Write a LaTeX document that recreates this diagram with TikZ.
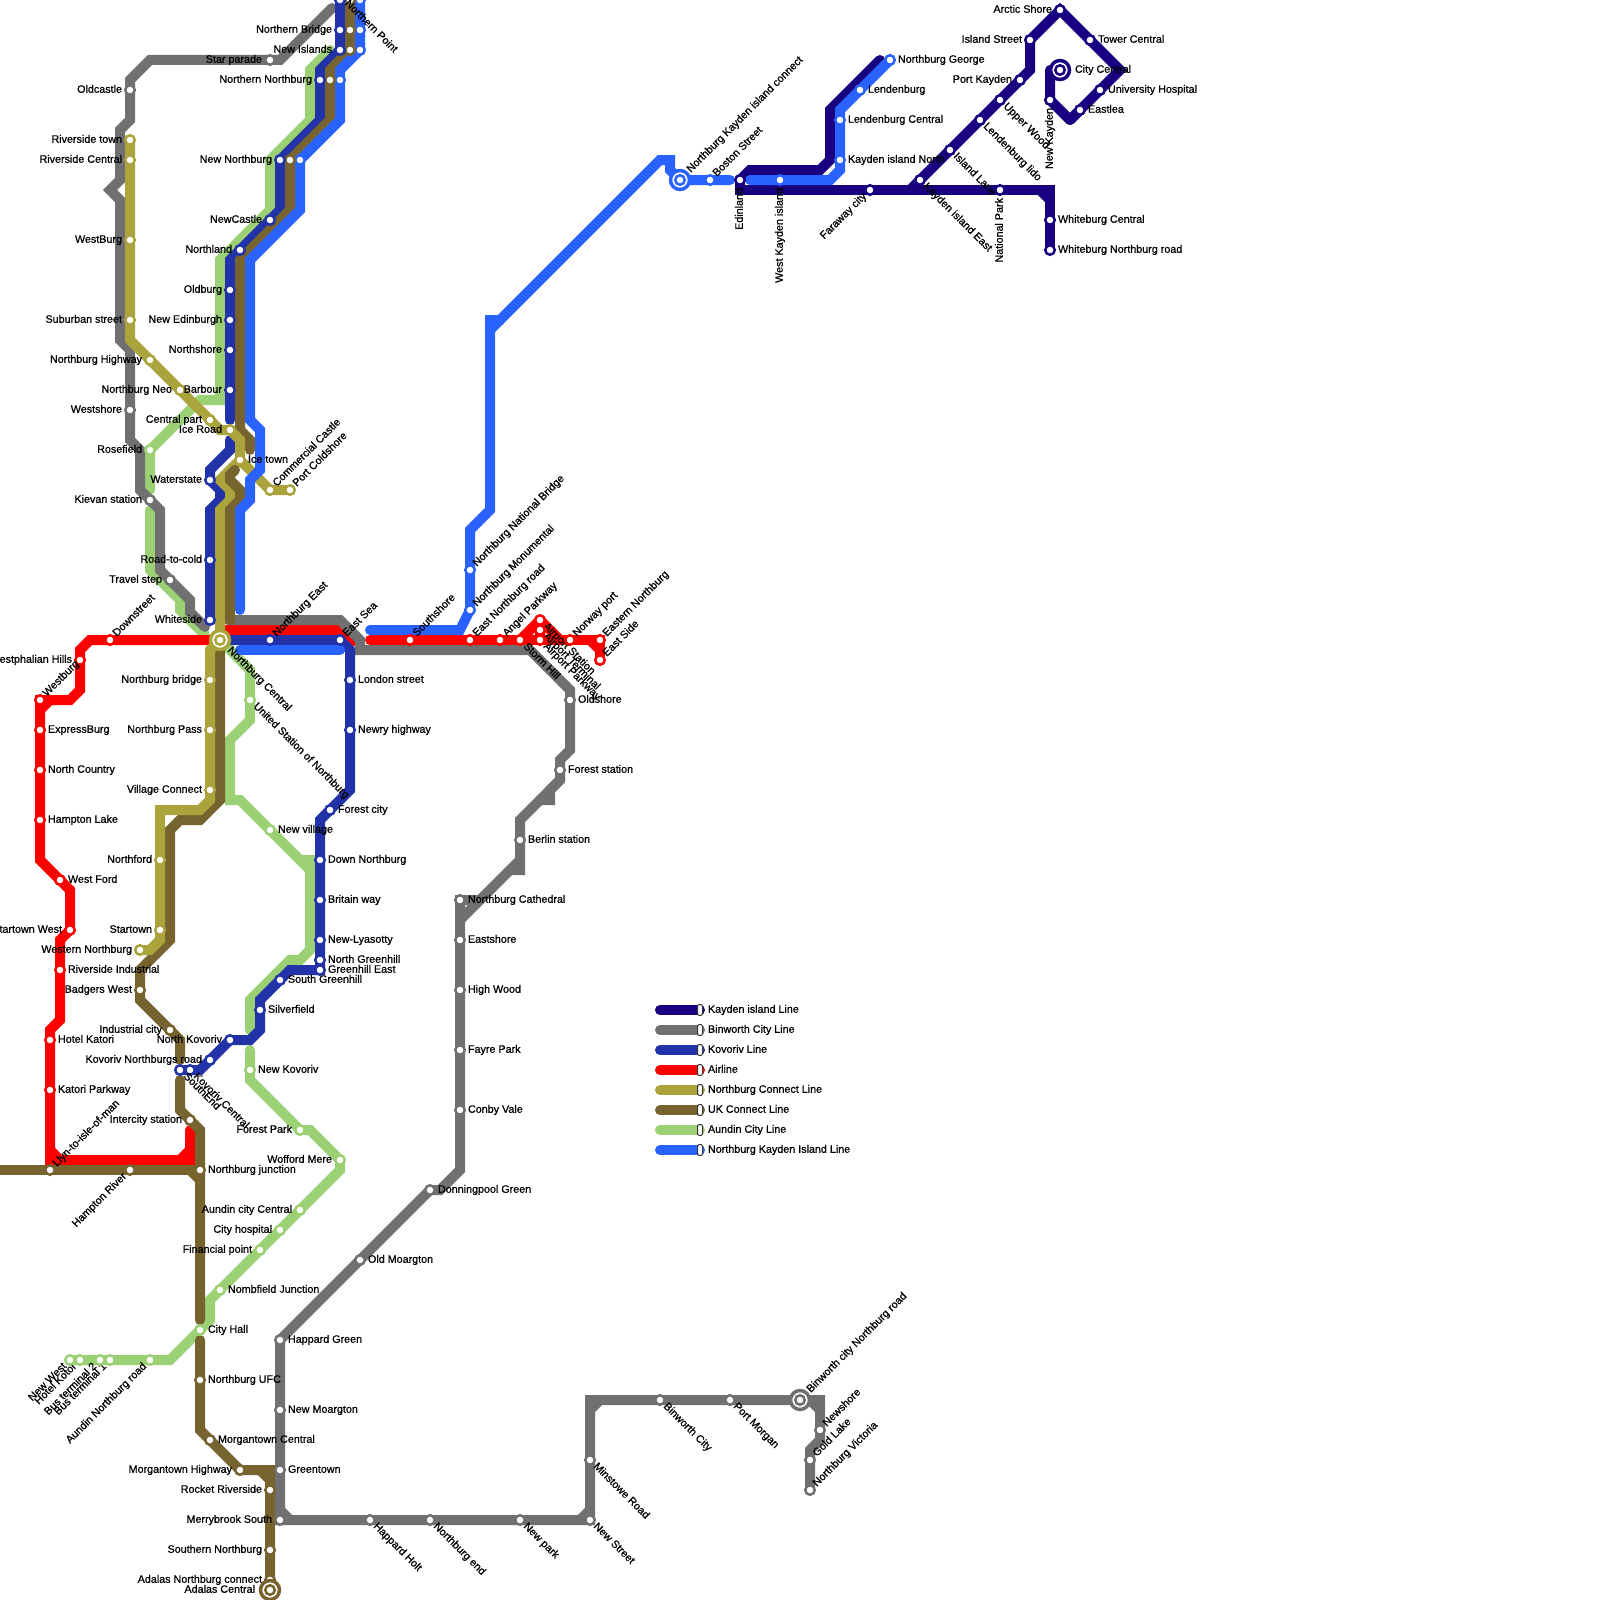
\documentclass[tikz,border=0pt]{standalone}
\usepackage{fontspec}
\newfontfamily\lab{Liberation Sans}[FakeBold=0.8]
\pgfdeclarelayer{bg}
\pgfsetlayers{bg,main}
\definecolor{kay}{HTML}{190080}
\definecolor{bin}{HTML}{707070}
\definecolor{kov}{HTML}{2232A8}
\definecolor{air}{HTML}{FF0000}
\definecolor{nco}{HTML}{ABA33B}
\definecolor{uko}{HTML}{77632E}
\definecolor{aun}{HTML}{9CD075}
\definecolor{nki}{HTML}{2962FF}
\tikzset{
  x=1pt,y=-1pt,
  ln/.style={line width=10pt,line cap=round,line join=miter,draw=#1},
  stn/.style={circle,draw=#1,line width=2.5pt,fill=white,minimum size=9.5pt,inner sep=0pt,outer sep=0pt},
  hbo/.style={circle,draw=#1,line width=3.5pt,fill=white,minimum size=19pt,inner sep=0pt,outer sep=0pt},
  tx/.style={inner sep=0pt,outer sep=0pt,font=\lab\fontsize{10.75}{10.75}\selectfont,text=black,text height=7.5pt,text depth=2pt},
  labr/.style={tx,xshift=8pt,anchor=west},
  labl/.style={tx,xshift=-8pt,anchor=east},
  labur/.style={tx,xshift=5pt,yshift=5pt,rotate=45,anchor=west},
  labdr/.style={tx,xshift=5pt,yshift=-5pt,rotate=-45,anchor=west},
  labdl/.style={tx,xshift=-5pt,yshift=-5pt,rotate=45,anchor=east},
  labd/.style={tx,yshift=-8pt,rotate=90,anchor=east},
  labhr/.style={tx,xshift=15pt,anchor=west},
  labhl/.style={tx,xshift=-15pt,anchor=east},
  labhur/.style={tx,xshift=9pt,yshift=9pt,rotate=45,anchor=west},
  labhdr/.style={tx,xshift=9pt,yshift=-9pt,rotate=-45,anchor=west},
  pill/.style={rounded corners=2pt,draw=black!80,line width=1pt,fill=white,minimum width=5pt,minimum height=11pt,inner sep=0pt,outer sep=0pt}
}
\newcommand\st[6]{\node[stn=#4] (#1) at (#2,#3) {}; \node[lab#5] (#1-t) at (#2,#3) {#6};}
\newcommand\dt[4]{\node[stn=#4] (#1) at (#2,#3) {};}
\newcommand\hb[6]{\node[hbo=#4] (#1) at (#2,#3) {}; \node[stn=#4] (#1-c) at (#2,#3) {}; \node[lab#5] (#1-t) at (#2,#3) {#6};}
\newcommand\lgd[3]{\coordinate (#1a) at (660,#2); \coordinate (#1b) at (700,#2);
  \draw[ln=#1] (#1a) -- (#1b); \node[pill] (#1p) at (#1b) {}; \node[labr] (#1t) at (#1b) {#3};}
\begin{document}
\begin{tikzpicture}
\useasboundingbox (0,0) rectangle (1600,1600);
% Kayden island Line
\st{arc}{1060}{10}{kay}{l}{Arctic Shore}
\st{ist}{1030}{40}{kay}{l}{Island Street}
\st{pk}{1020}{80}{kay}{l}{Port Kayden}
\st{tc}{1090}{40}{kay}{r}{Tower Central}
\st{uh}{1100}{90}{kay}{r}{University Hospital}
\st{eas}{1080}{110}{kay}{r}{Eastlea}
\st{nkay}{1050}{100}{kay}{d}{New Kayden}
\st{uw}{1000}{100}{kay}{dr}{Upper Wood}
\st{llido}{980}{120}{kay}{dr}{Lendenburg lido}
\st{ilane}{950}{150}{kay}{dr}{Island Lane}
\st{kie}{920}{180}{kay}{dr}{Kayden island East}
\st{natp}{1000}{190}{kay}{d}{National Park}
\st{farw}{870}{190}{kay}{dl}{Faraway city}
\st{edin}{740}{180}{kay}{d}{Edinland}
\st{wbc}{1050}{220}{kay}{r}{Whiteburg Central}
\st{wbn}{1050}{250}{kay}{r}{Whiteburg Northburg road}
\hb{cc}{1060}{70}{kay}{hr}{City Central}
% Northburg Kayden Island Line
\st{ng}{890}{60}{nki}{r}{Northburg George}
\st{lend}{860}{90}{nki}{r}{Lendenburg}
\st{lc}{840}{120}{nki}{r}{Lendenburg Central}
\st{kin}{840}{160}{nki}{r}{Kayden island North}
\st{wki}{780}{180}{nki}{d}{West Kayden island}
\st{bost}{710}{180}{nki}{ur}{Boston Street}
\hb{nkic}{680}{180}{nki}{hur}{Northburg Kayden island connect}
\st{nnb}{470}{570}{nki}{ur}{Northburg National Bridge}
\st{nmon}{470}{610}{nki}{ur}{Northburg Monumental}
\dt{np3}{360}{0}{nki}
\dt{nbr3}{360}{30}{nki}
\dt{ni3}{360}{50}{nki}
\dt{nn3}{340}{80}{nki}
\dt{nnr3}{300}{160}{nki}
% Airline
\st{ss}{410}{640}{air}{ur}{Southshore}
\st{enr}{470}{640}{air}{ur}{East Northburg road}
\st{angp}{500}{640}{air}{ur}{Angel Parkway}
\st{sth}{520}{640}{air}{dr}{Storm Hill}
\st{ast}{540}{620}{air}{dr}{Airport Station}
\st{atm}{540}{630}{air}{dr}{Airport Terminal}
\st{apk}{540}{640}{air}{dr}{Airport Parkway}
\st{nwp}{570}{640}{air}{ur}{Norway port}
\st{enb}{600}{640}{air}{ur}{Eastern Northburg}
\st{esd}{600}{660}{air}{ur}{East Side}
\st{dst}{110}{640}{air}{ur}{Downstreet}
\st{wph}{80}{660}{air}{l}{Westphalian Hills}
\st{wbg}{40}{700}{air}{ur}{Westburg}
\st{exb}{40}{730}{air}{r}{ExpressBurg}
\st{nct}{40}{770}{air}{r}{North Country}
\st{hpl}{40}{820}{air}{r}{Hampton Lake}
\st{wfd}{60}{880}{air}{r}{West Ford}
\st{stw}{70}{930}{air}{l}{Startown West}
\st{rvi}{60}{970}{air}{r}{Riverside Industrial}
\st{htk}{50}{1040}{air}{r}{Hotel Katori}
\st{ktp}{50}{1090}{air}{r}{Katori Parkway}
% UK Connect Line
\st{llyn}{50}{1170}{uko}{ur}{Llyn-to-isle-of-man}
\st{hmr}{130}{1170}{uko}{dl}{Hampton River}
\st{nj}{200}{1170}{uko}{r}{Northburg junction}
\st{ics}{190}{1120}{uko}{l}{Intercity station}
\st{bdw}{140}{990}{uko}{l}{Badgers West}
\st{idc}{170}{1030}{uko}{l}{Industrial city}
\st{nufc}{200}{1380}{uko}{r}{Northburg UFC}
\st{mgc}{210}{1440}{uko}{r}{Morgantown Central}
\st{mgh}{240}{1470}{uko}{l}{Morgantown Highway}
\st{rkr}{270}{1490}{uko}{l}{Rocket Riverside}
\st{stn}{270}{1550}{uko}{l}{Southern Northburg}
\st{anc}{270}{1580}{uko}{l}{Adalas Northburg connect}
\hb{adc}{270}{1590}{uko}{hl}{Adalas Central}
\dt{np2}{350}{0}{uko}
\dt{nbr2}{350}{30}{uko}
\dt{ni2}{350}{50}{uko}
\dt{nn2}{330}{80}{uko}
\dt{nnr2}{290}{160}{uko}
% Northburg Connect Line
\st{rvt}{130}{140}{nco}{l}{Riverside town}
\st{rvc}{130}{160}{nco}{l}{Riverside Central}
\st{wbu}{130}{240}{nco}{l}{WestBurg}
\st{sbs}{130}{320}{nco}{l}{Suburban street}
\st{nhw}{150}{360}{nco}{l}{Northburg Highway}
\st{nneo}{180}{390}{nco}{l}{Northburg Neo}
\st{cpt}{210}{420}{nco}{l}{Central part}
\st{ird}{230}{430}{nco}{l}{Ice Road}
\st{itn}{240}{460}{nco}{r}{Ice town}
\st{cmc}{270}{490}{nco}{ur}{Commercial Castle}
\st{pcs}{290}{490}{nco}{ur}{Port Coldshore}
\st{nbb}{210}{680}{nco}{l}{Northburg bridge}
\st{nbp}{210}{730}{nco}{l}{Northburg Pass}
\st{vcn}{210}{790}{nco}{l}{Village Connect}
\st{nfd}{160}{860}{nco}{l}{Northford}
\st{stt}{160}{930}{nco}{l}{Startown}
\st{wnb}{140}{950}{nco}{l}{Western Northburg}
\hb{hub}{220}{640}{nco}{hdr}{Northburg Central}
% Kovoriv Line
\dt{np1}{340}{0}{kov}
\st{nbr1}{340}{30}{kov}{l}{Northern Bridge}
\st{ni1}{340}{50}{kov}{l}{New Islands}
\st{nn1}{320}{80}{kov}{l}{Northern Northburg}
\st{nnr1}{280}{160}{kov}{l}{New Northburg}
\st{ncs}{270}{220}{kov}{l}{NewCastle}
\st{nld}{240}{250}{kov}{l}{Northland}
\st{old}{230}{290}{kov}{l}{Oldburg}
\st{ned}{230}{320}{kov}{l}{New Edinburgh}
\st{nsh}{230}{350}{kov}{l}{Northshore}
\st{bar}{230}{390}{kov}{l}{Barbour}
\st{wat}{210}{480}{kov}{l}{Waterstate}
\st{r2c}{210}{560}{kov}{l}{Road-to-cold}
\st{wsd}{210}{620}{kov}{l}{Whiteside}
\st{nbe}{270}{640}{kov}{ur}{Northburg East}
\st{esa}{340}{640}{kov}{ur}{East Sea}
\st{lon}{350}{680}{kov}{r}{London street}
\st{nrh}{350}{730}{kov}{r}{Newry highway}
\st{fct}{330}{810}{kov}{r}{Forest city}
\st{dnn}{320}{860}{kov}{r}{Down Northburg}
\st{brw}{320}{900}{kov}{r}{Britain way}
\st{nly}{320}{940}{kov}{r}{New-Lyasotty}
\st{ngh}{320}{960}{kov}{r}{North Greenhill}
\st{ghe}{320}{970}{kov}{r}{Greenhill East}
\st{sgh}{280}{980}{kov}{r}{South Greenhill}
\st{slv}{260}{1010}{kov}{r}{Silverfield}
\st{nkv}{230}{1040}{kov}{l}{North Kovoriv}
\st{knr}{210}{1060}{kov}{l}{Kovoriv Northburgs road}
\st{kvc}{190}{1070}{kov}{dr}{Kovoriv Central}
\st{sed}{180}{1070}{kov}{dr}{SouthEnd}
% Aundin City Line
\st{rsf}{150}{450}{aun}{l}{Rosefield}
\st{usn}{250}{700}{aun}{dr}{United Station of Northburg}
\st{nvl}{270}{830}{aun}{r}{New village}
\st{nkr}{250}{1070}{aun}{r}{New Kovoriv}
\st{fpk}{300}{1130}{aun}{l}{Forest Park}
\st{wfm}{340}{1160}{aun}{l}{Wofford Mere}
\st{acc}{300}{1210}{aun}{l}{Aundin city Central}
\st{chs}{280}{1230}{aun}{l}{City hospital}
\st{fnp}{260}{1250}{aun}{l}{Financial point}
\st{nmb}{220}{1290}{aun}{r}{Nombfield Junction}
\st{chl}{200}{1330}{aun}{r}{City Hall}
\st{anr}{150}{1360}{aun}{dl}{Aundin Northburg road}
\st{bt1}{110}{1360}{aun}{dl}{Bus terminal 1}
\st{bt2}{100}{1360}{aun}{dl}{Bus terminal 2}
\st{hkt}{80}{1360}{aun}{dl}{Hotel Kotor}
\st{nwt}{70}{1360}{aun}{dl}{New West}
% Binworth City Line
\st{sp}{270}{60}{bin}{l}{Star parade}
\st{olc}{130}{90}{bin}{l}{Oldcastle}
\st{wsh}{130}{410}{bin}{l}{Westshore}
\st{kvs}{150}{500}{bin}{l}{Kievan station}
\st{trv}{170}{580}{bin}{l}{Travel step}
\st{ols}{570}{700}{bin}{r}{Oldshore}
\st{fst}{560}{770}{bin}{r}{Forest station}
\st{ber}{520}{840}{bin}{r}{Berlin station}
\st{cat}{460}{900}{bin}{r}{Northburg Cathedral}
\st{esh}{460}{940}{bin}{r}{Eastshore}
\st{hwd}{460}{990}{bin}{r}{High Wood}
\st{fyp}{460}{1050}{bin}{r}{Fayre Park}
\st{cbv}{460}{1110}{bin}{r}{Conby Vale}
\st{dpg}{430}{1190}{bin}{r}{Donningpool Green}
\st{omg}{360}{1260}{bin}{r}{Old Moargton}
\st{hpg}{280}{1340}{bin}{r}{Happard Green}
\st{nmg}{280}{1410}{bin}{r}{New Moargton}
\st{grt}{280}{1470}{bin}{r}{Greentown}
\st{mbs}{280}{1520}{bin}{l}{Merrybrook South}
\st{hph}{370}{1520}{bin}{dr}{Happard Holt}
\st{nbd}{430}{1520}{bin}{dr}{Northburg end}
\st{npk}{520}{1520}{bin}{dr}{New park}
\st{nws}{590}{1520}{bin}{dr}{New Street}
\st{mns}{590}{1460}{bin}{dr}{Minstowe Road}
\st{bwc}{660}{1400}{bin}{dr}{Binworth City}
\st{pmg}{730}{1400}{bin}{dr}{Port Morgan}
\hb{bnr}{800}{1400}{bin}{hur}{Binworth city Northburg road}
\st{nwh}{820}{1430}{bin}{ur}{Newshore}
\st{gdl}{810}{1460}{bin}{ur}{Gold Lake}
\st{nvc}{810}{1490}{bin}{ur}{Northburg Victoria}
\node[labdr,xshift=-8pt,yshift=-4pt] (nbpt) at (350,0) {Northern Point};
\begin{pgfonlayer}{bg}
% Kayden
\draw[ln=kay] (edin.center) -- (740,190) -- (farw.center) -- (natp.center) -- (1050,190) -- (wbc.center) -- (wbn.center);
\draw[ln=kay] (1040,190) -- (1050,200);
\draw[ln=kay] (edin.center) -- (750,170) -- (820,170) -- (830,160) -- (830,110) -- (880,60);
\draw[ln=kay] (910,190) -- (kie.center) -- (ilane.center) -- (llido.center) -- (uw.center) -- (pk.center) -- (1030,70) -- (ist.center) -- (arc.center) -- (tc.center) -- (1120,70) -- (uh.center) -- (eas.center) -- (1070,120);
\draw[ln=kay,line join=round] (eas.center) -- (1070,120) -- (nkay.center) -- (1050,70) -- (cc.center);
% Aundin
\draw[ln=aun] (330,50) -- (310,70) -- (310,120) -- (270,160) -- (270,210) -- (220,260) -- (220,400) -- (200,400) -- (rsf.center) -- (150,490);
\draw[ln=aun] (150,510) -- (150,570) -- (180,600) -- (180,610) -- (205,635);
\draw[ln=aun] (hub.center) -- (250,670) -- (usn.center) -- (250,720) -- (230,740) -- (230,800) -- (240,800) -- (nvl.center) -- (300,860) -- (310,860) -- (310,950) -- (300,960) -- (290,960) -- (250,1000) -- (250,1030);
\draw[ln=aun] (300,860) -- (310,870);
\draw[ln=aun] (250,1050) -- (nkr.center) -- (250,1080) -- (fpk.center) -- (310,1130) -- (wfm.center) -- (340,1170) -- (acc.center) -- (chs.center) -- (fnp.center) -- (nmb.center) -- (210,1300) -- (210,1320) -- (chl.center) -- (170,1360) -- (nwt.center);
% Airline
\draw[ln=air] (hub.center) -- (dst.center) -- (90,640) -- (80,650) -- (wph.center) -- (80,690) -- (70,700) -- (wbg.center) -- (exb.center) -- (nct.center) -- (hpl.center) -- (40,860) -- (wfd.center) -- (70,890) -- (stw.center) -- (60,940) -- (rvi.center) -- (60,1020) -- (50,1030) -- (htk.center) -- (ktp.center) -- (50,1160) -- (190,1160) -- (190,1130);
\draw[ln=air] (40,710) -- (50,700);
\draw[ln=air] (50,1150) -- (60,1160);
\draw[ln=air] (180,1160) -- (190,1150);
\draw[ln=air] (225,630) -- (340,630) -- (352,642);
\draw[ln=air] (370,640) -- (ss.center) -- (enr.center) -- (angp.center) -- (sth.center) -- (apk.center) -- (nwp.center) -- (enb.center) -- (esd.center);
\draw[ln=air] (590,640) -- (600,650);
\draw[ln=air,line join=round] (sth.center) -- (ast.center) -- (atm.center) -- (apk.center);
\draw[ln=air,line join=round] (ast.center) -- (560,640);
% Binworth
\draw[ln=bin] (332,8) -- (280,60) -- (sp.center) -- (150,60) -- (130,80) -- (olc.center) -- (130,120) -- (120,130) -- (120,180) -- (110,190) -- (120,200) -- (120,340) -- (130,350) -- (wsh.center) -- (130,440) -- (140,450) -- (140,490) -- (kvs.center) -- (160,510) -- (160,570) -- (trv.center) -- (190,600) -- (190,612) -- (205,627);
\draw[ln=bin] (228,620) -- (340,620) -- (360,640) -- (360,650) -- (530,650) -- (570,690) -- (ols.center) -- (570,750) -- (560,760) -- (fst.center) -- (560,780) -- (520,820) -- (ber.center) -- (520,870) -- (510,870) -- (520,860) -- (460,920);
\draw[ln=bin] (560,780) -- (550,790) -- (550,800) -- (540,800);
\draw[ln=bin] (480,900) -- (cat.center) -- (esh.center) -- (hwd.center) -- (fyp.center) -- (cbv.center) -- (460,1170) -- (440,1190) -- (dpg.center) -- (omg.center) -- (hpg.center) -- (nmg.center) -- (grt.center) -- (mbs.center) -- (hph.center) -- (nbd.center) -- (npk.center) -- (nws.center) -- (mns.center) -- (590,1400) -- (bwc.center) -- (pmg.center) -- (bnr.center) -- (820,1400) -- (nwh.center) -- (820,1440) -- (810,1450) -- (gdl.center) -- (nvc.center);
\draw[ln=bin] (280,1510) -- (290,1520);
\draw[ln=bin] (580,1520) -- (590,1510);
\draw[ln=bin] (590,1410) -- (600,1400);
\draw[ln=bin] (810,1400) -- (820,1410);
% Kovoriv
\draw[ln=kov] (340,-10) -- (nbr1.center) -- (ni1.center) -- (320,70) -- (nn1.center) -- (320,120) -- (nnr1.center) -- (280,210) -- (ncs.center) -- (nld.center) -- (230,260) -- (old.center) -- (ned.center) -- (nsh.center) -- (bar.center) -- (230,420);
\draw[ln=kov] (230,440) -- (230,450) -- (210,470) -- (wat.center) -- (220,490) -- (220,500) -- (210,510) -- (r2c.center) -- (wsd.center);
\draw[ln=kov] (hub.center) -- (nbe.center) -- (esa.center) -- (350,650) -- (lon.center) -- (nrh.center) -- (350,790) -- (fct.center) -- (320,820) -- (dnn.center) -- (brw.center) -- (nly.center) -- (ngh.center) -- (ghe.center) -- (290,970) -- (sgh.center) -- (260,1000) -- (slv.center) -- (260,1030) -- (250,1040) -- (nkv.center) -- (knr.center) -- (200,1070) -- (kvc.center) -- (sed.center);
% UK Connect, first part
\draw[ln=uko] (350,-10) -- (nbr2.center) -- (ni2.center) -- (330,70) -- (nn2.center) -- (330,120) -- (nnr2.center) -- (290,210) -- (240,260) -- (240,430) -- (250,440) -- (250,450);
\draw[ln=uko] (hub.center) -- (220,800) -- (200,820) -- (180,820) -- (170,830) -- (170,940) -- (140,970) -- (bdw.center) -- (140,1000) -- (idc.center) -- (180,1040) -- (180,1060);
\draw[ln=uko] (180,1080) -- (180,1110) -- (ics.center) -- (200,1130) -- (nj.center) -- (200,1320);
\draw[ln=uko] (-10,1170) -- (llyn.center) -- (hmr.center) -- (nj.center);
\draw[ln=uko] (190,1170) -- (200,1180);
\draw[ln=uko] (200,1340) -- (nufc.center) -- (200,1430) -- (mgc.center) -- (mgh.center) -- (270,1470) -- (rkr.center) -- (stn.center) -- (anc.center) -- (adc.center);
\draw[ln=uko] (260,1470) -- (270,1480);
% Northburg Connect
\draw[ln=nco] (rvt.center) -- (rvc.center) -- (wbu.center) -- (sbs.center) -- (130,340) -- (nhw.center) -- (nneo.center) -- (cpt.center) -- (220,430) -- (ird.center) -- (240,440) -- (itn.center) -- (220,480) -- (230,490) -- (230,500) -- (220,510) -- (hub.center);
\draw[ln=nco] (itn.center) -- (cmc.center) -- (pcs.center);
\draw[ln=nco] (hub.center) -- (210,650) -- (nbb.center) -- (nbp.center) -- (vcn.center) -- (210,800) -- (200,810) -- (160,810) -- (nfd.center) -- (stt.center) -- (160,940) -- (150,950) -- (wnb.center);
% UK Connect, part over Northburg Connect
\draw[ln=uko] (235,470) -- (230,475) -- (230,480) -- (240,490) -- (240,500) -- (230,510) -- (230,620);
% Northburg Kayden Island
\draw[ln=nki] (360,-10) -- (nbr3.center) -- (ni3.center) -- (340,70) -- (nn3.center) -- (340,120) -- (nnr3.center) -- (300,210) -- (250,260) -- (250,420) -- (260,430) -- (260,470) -- (250,480) -- (250,500) -- (240,510) -- (240,610);
\draw[ln=nki] (240,650) -- (340,650);
\draw[ln=nki] (370,630) -- (460,630) -- (nmon.center) -- (nnb.center) -- (470,530) -- (490,510) -- (490,320) -- (500,320) -- (660,160) -- (670,160) -- (670,170) -- (nkic.center) -- (bost.center) -- (730,180);
\draw[ln=nki] (490,330) -- (500,320);
\draw[ln=nki] (750,180) -- (wki.center) -- (830,180) -- (840,170) -- (kin.center) -- (lc.center) -- (840,110) -- (lend.center) -- (ng.center);
\end{pgfonlayer}
% legend
\lgd{kay}{1010}{Kayden island Line}
\lgd{bin}{1030}{Binworth City Line}
\lgd{kov}{1050}{Kovoriv Line}
\lgd{air}{1070}{Airline}
\lgd{nco}{1090}{Northburg Connect Line}
\lgd{uko}{1110}{UK Connect Line}
\lgd{aun}{1130}{Aundin City Line}
\lgd{nki}{1150}{Northburg Kayden Island Line}
\end{tikzpicture}
\end{document}
